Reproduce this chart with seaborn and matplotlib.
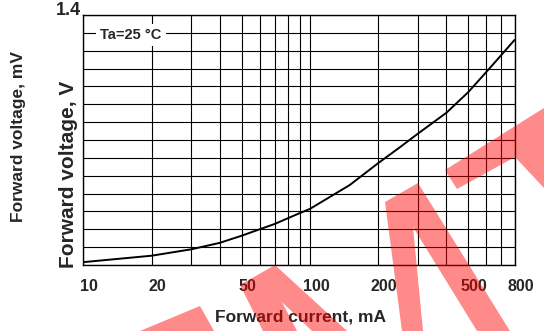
import matplotlib
matplotlib.use("Agg")
import matplotlib.pyplot as plt
import matplotlib.transforms as mtransforms
from matplotlib.patches import Polygon
import seaborn as sns
import pandas as pd

# ---- data ----
current_ma = [10, 20, 30, 40, 50, 60, 70, 80, 90, 100, 150, 200, 250, 300, 400, 500, 600, 700, 800]
voltage_v = [0.708, 0.726, 0.744, 0.762, 0.782, 0.800, 0.815, 0.831, 0.845, 0.857,
             0.924, 0.985, 1.030, 1.068, 1.126, 1.184, 1.240, 1.288, 1.330]

x_major_ticks = [10, 20, 50, 100, 200, 500, 800]
x_major_labels = ["10", "20", "50", "100", "200", "500", "800"]
x_minor_ticks = [30, 40, 60, 70, 80, 90, 300, 400, 600, 700]

y_ticks = [0.70, 0.75, 0.80, 0.85, 0.90, 0.95, 1.00, 1.05, 1.10, 1.15, 1.20, 1.25, 1.30, 1.35, 1.40]
y_labels = [""] * 14 + ["1.4"]

annotation = "Ta=25 °C"
x_label = "Forward current, mA"
y_label_outer = "Forward voltage, mV"
y_label_inner = "Forward voltage, V"

# decorative watermark outlines (figure pixel coords, y from top)
watermark_shapes = [
    [(140, 331), (200, 306), (214, 331)],
    [(240, 285), (275, 265), (347, 331), (312, 331), (282, 302), (297, 331), (263, 331)],
    [(385, 202), (418, 183), (510, 331), (477, 331), (413, 227), (423, 331), (402, 331)],
    [(445, 170), (544, 108), (544, 188), (515, 157), (457, 189)],
]

df = pd.DataFrame({"current": current_ma, "voltage": voltage_v})

sns.set_style("white")
plt.rcParams["font.family"] = ["Liberation Sans", "DejaVu Sans"]
plt.rcParams["font.weight"] = "bold"

W, H = 544, 331
fig = plt.figure(figsize=(W / 100, H / 100), dpi=100)
ax = fig.add_axes([83.3 / W, 66 / H, 431.2 / W, 250 / H])

sns.lineplot(data=df, x="current", y="voltage", ax=ax, color="black", linewidth=1.4, zorder=4)

ax.set_xscale("log")
ax.set_xlim(10, 800)
ax.set_ylim(0.70, 1.40)
ax.set_xticks(x_major_ticks)
ax.set_xticklabels(x_major_labels, fontsize=11.5, fontweight="bold")
ax.set_xticks(x_minor_ticks, minor=True)
ax.set_xticklabels([""] * len(x_minor_ticks), minor=True)
ax.set_yticks(y_ticks)
ax.set_yticklabels(y_labels, fontsize=13, fontweight="bold")
ax.set_xlabel("")
ax.set_ylabel("")
ax.tick_params(axis="both", which="both", length=0)
ax.tick_params(axis="x", pad=10)
ax.tick_params(axis="y", pad=2)
ax.grid(True, which="both", color="black", linewidth=0.8)
ax.set_axisbelow(True)
for s in ax.spines.values():
    s.set_color("black")
    s.set_linewidth(1.0)

for lab in ax.get_yticklabels():
    lab.set_va("baseline")

shift = mtransforms.ScaledTranslation(6 / 100, 0, fig.dpi_scale_trans)
for lab in ax.get_xticklabels():
    lab.set_transform(lab.get_transform() + shift)

ax.text(0.110, 0.921, annotation, transform=ax.transAxes, ha="center", va="center",
        fontsize=10.5, fontweight="bold", zorder=5,
        bbox=dict(facecolor="white", edgecolor="none", pad=3))

fig.text(300.5 / W, 1 - 317 / H, x_label, ha="center", va="center",
         fontsize=12.5, fontweight="bold", zorder=0.5)
fig.text(18.5 / W, 1 - 136 / H, y_label_outer, ha="center", va="center", rotation=90,
         fontsize=12.5, fontweight="bold", zorder=0.5)
fig.text(69 / W, 1 - 174.5 / H, y_label_inner, ha="center", va="center", rotation=90,
         fontsize=15, fontweight="bold", zorder=0.5)

for shape in watermark_shapes:
    pts = [(px / W, 1 - py / H) for px, py in shape]
    fig.patches.append(Polygon(pts, closed=True, transform=fig.transFigure,
                               facecolor="#ff0000", edgecolor="none", alpha=0.46, zorder=5))

fig.savefig("out.png", dpi=100)
